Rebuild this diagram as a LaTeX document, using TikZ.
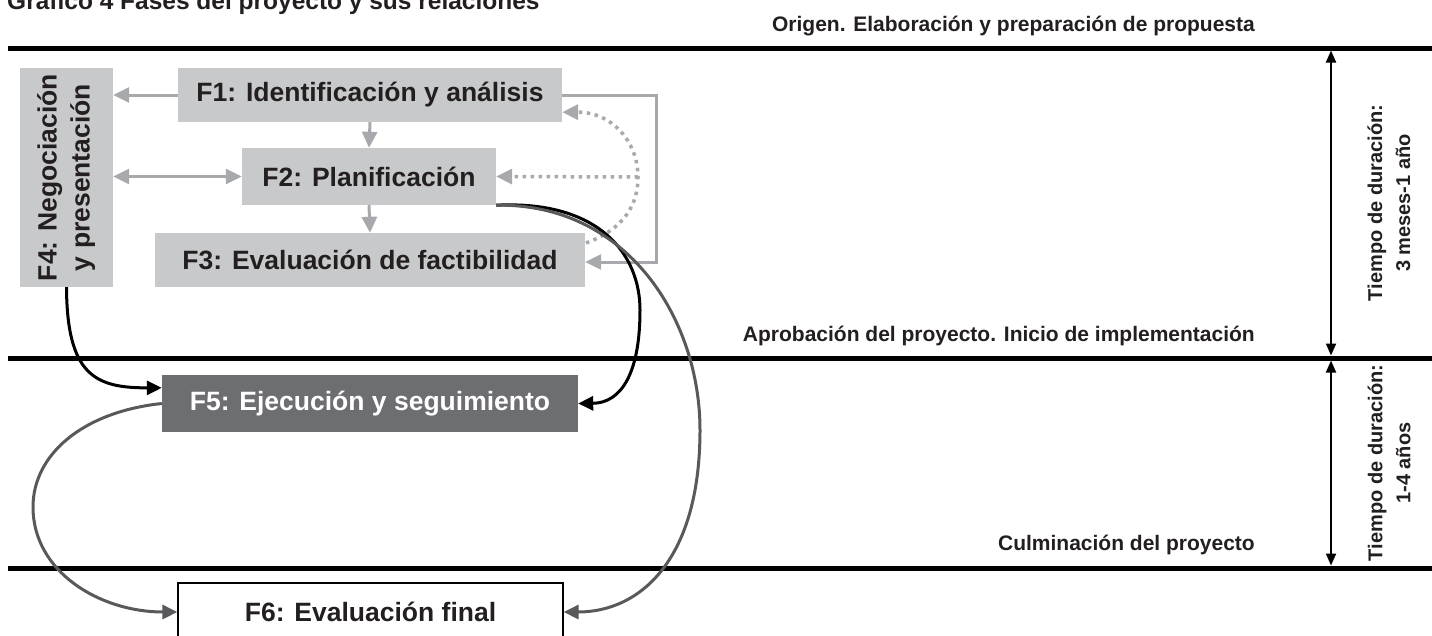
\documentclass[tikz,border=0pt]{standalone}
\usepackage{fontspec}
\usepackage{graphicx}
\setmainfont{Liberation Sans}
\usetikzlibrary{arrows.meta,calc}
\definecolor{boxgrey}{HTML}{C8C9CB}
\definecolor{arrgrey}{HTML}{A7A9AC}
\definecolor{darkbox}{HTML}{6D6E71}
\definecolor{curvegrey}{HTML}{58595B}
\definecolor{txt}{HTML}{231F20}
\begin{document}
\begin{tikzpicture}[x=1pt,y=-1pt,
  phase/.style={fill=boxgrey, inner sep=0pt, text=txt, font=\fontsize{26.5}{33}\selectfont\bfseries},
  garrow/.style={draw=arrgrey, line width=3pt, -{Triangle[length=16pt,width=15pt]}},
  gdarrow/.style={draw=arrgrey, line width=3pt, {Triangle[length=16pt,width=15pt]}-{Triangle[length=16pt,width=15pt]}},
  gdot/.style={draw=arrgrey, line width=3.5pt, dash pattern=on 3.5pt off 4.5pt, -{Triangle[length=16pt,width=15pt]}},
  bcurve/.style={draw=black, line width=3pt, -{Triangle[length=15pt,width=14pt]}},
  dcurve/.style={draw=curvegrey, line width=3pt, -{Triangle[length=15pt,width=14pt]}},
  sepline/.style={draw=black, line width=5pt},
  vdim/.style={draw=black, line width=2pt, {Triangle[length=12pt,width=10pt]}-{Triangle[length=12pt,width=10pt]}, shorten <=2.5pt, shorten >=2.5pt},
  lab/.style={inner sep=0pt, text=txt, font=\fontsize{21}{28}\selectfont\bfseries},
  ttl/.style={inner sep=0pt, text=txt, font=\fontsize{24.5}{30}\selectfont\bfseries}
]
\useasboundingbox (0,0) rectangle (1432,635);
\fill[white] (0,0) rectangle (1432,635);

% title (cut at the top edge, as in the reference) and separator lines
\node[ttl, anchor=base west] (title) at (7,9) {Gráfico 4 Fases del proyecto y sus relaciones};
\coordinate (l1a) at (8,48);   \coordinate (l1b) at (1432,48);
\coordinate (l2a) at (8,358);  \coordinate (l2b) at (1432,358);
\coordinate (l3a) at (8,568);  \coordinate (l3b) at (1432,568);
\draw[sepline] (l1a) -- (l1b);
\draw[sepline] (l2a) -- (l2b);
\draw[sepline] (l3a) -- (l3b);

\node[lab, anchor=base east] (origen) at (1255,31) {Origen. Elaboración y preparación de propuesta};
\node[lab, anchor=base east] (aprob) at (1255,341) {Aprobación del proyecto. Inicio de implementación};
\node[lab, anchor=base east] (culm) at (1255,550) {Culminación del proyecto};

% duration arrows
\coordinate (t1) at (1331,48);
\coordinate (t2) at (1331,358);
\coordinate (t3) at (1331,568);
\draw[vdim] (t1) -- (t2);
\draw[vdim] (t2) -- (t3);
\node[lab, rotate=90, align=center, font=\fontsize{20}{28}\selectfont\bfseries] (dur1) at (1389,203) {Tiempo de duración:\\3 meses-1 año};
\node[lab, rotate=90, align=center, font=\fontsize{20}{28}\selectfont\bfseries] (dur2) at (1389,463) {Tiempo de duración:\\1-4 años};

% phase boxes
\node[phase, minimum width=384pt, minimum height=54pt] (f1) at (370,95) {F1: Identificación y análisis};
\node[phase, minimum width=254pt, minimum height=57pt] (f2) at (369,176.5) {F2: Planificación};
\node[phase, minimum width=430pt, minimum height=54pt] (f3) at (370,260) {F3: Evaluación de factibilidad};
\node[phase, minimum width=93pt, minimum height=219pt] (f4) at (66.5,177.5)
  {\rotatebox{90}{\begin{tabular}{@{}c@{}}F4: Negociación\\y presentación\end{tabular}}};
\node[phase, fill=darkbox, text=white, minimum width=416pt, minimum height=57pt] (f5) at (370,403.5) {F5: Ejecución y seguimiento};
\node[phase, fill=white, draw=black, line width=1.2pt, minimum width=385pt, minimum height=58pt] (f6) at (370.5,612) {F6: Evaluación final};

% grey connectors
\draw[garrow] (f1.west) -- (f4.east |- f1.west);
\draw[garrow] (f1.south) -- (f2.north);
\draw[garrow] (f2.south) -- (f3.north);
\draw[gdarrow] (f4.east |- f2.west) -- (f2.west);
\coordinate (fb) at (656,95);
\draw[garrow] (f1.east) -- (fb) |- ($(f3.east)+(0,2)$);

% dotted feedback
\coordinate (ds) at (586,243);
\coordinate (dm) at (638,177);
\draw[gdot] (ds) .. controls (624,229) and (638,205) .. (dm) .. controls (638,142) and (612,112) .. ($(f1.south east)+(0,-10)$);
\draw[gdot] (dm) -- (f2.east);

% black curves
\draw[bcurve] (f4.south) .. controls (67,375) and (95,388) .. ($(f5.north west)+(0,13)$);
\draw[bcurve] (f2.south east) .. controls (600,200) and (640,255) .. (640,310) .. controls (640,372) and (622,403) .. (f5.east);

% dark grey curves
\draw[dcurve] (f2.south east) .. controls (628,203) and (700,320) .. (700,430) .. controls (700,560) and (640,612) .. (f6.east);
\draw[dcurve] (f5.west) .. controls (82,412) and (33,455) .. (33,507) .. controls (33,572) and (100,612) .. (f6.west);
\end{tikzpicture}
\end{document}
